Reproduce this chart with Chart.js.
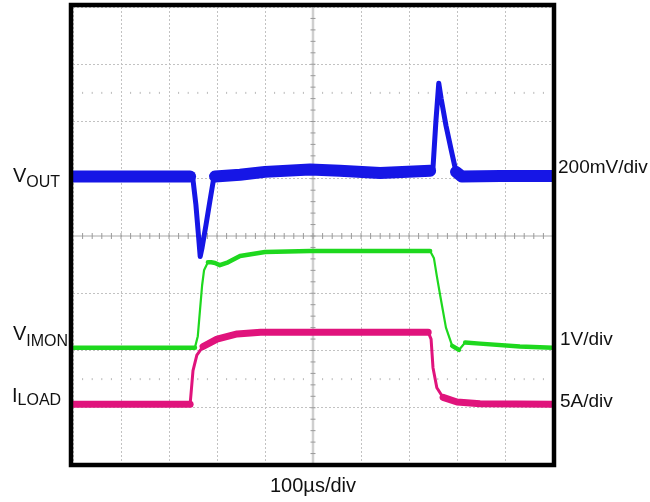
<!DOCTYPE html>
<html>
<head>
<meta charset="utf-8">
<script src="https://cdn.jsdelivr.net/npm/chart.js@4/dist/chart.umd.min.js"></script>
<style>
  body { margin: 0; background: #fff; }
  #wrap { width: 650px; height: 502px; }
</style>
</head>
<body>
<div id="wrap"><canvas id="scope" width="650" height="502"></canvas></div>
<script>
// time in divisions (100us/div), level in divisions from screen centre
const voutT = [0, 2.44, 2.5, 2.56, 2.62, 2.65, 2.69, 2.77, 2.85, 2.92, 2.96, 3.48, 4.0, 4.94, 5.56, 6.4, 7.44, 7.5, 7.56, 7.62, 7.67, 7.77, 7.88, 7.98, 8.1, 8.9, 10];
const voutV = [1.04, 1.04, 0.98, 0.55, -0.05, -0.36, -0.2, 0.19, 0.6, 0.95, 1.04, 1.07, 1.12, 1.16, 1.14, 1.1, 1.14, 1.19, 2.0, 2.67, 2.4, 1.93, 1.5, 1.12, 1.04, 1.05, 1.05];

const imonT = [0, 2.54, 2.6, 2.65, 2.69, 2.73, 2.81, 2.88, 2.96, 3.06, 3.23, 3.48, 4.0, 4.94, 7.44, 7.52, 7.58, 7.65, 7.77, 7.9, 8.04, 8.17, 8.48, 9.31, 10];
const imonV = [-1.95, -1.95, -1.75, -1.25, -0.86, -0.6, -0.46, -0.46, -0.47, -0.51, -0.46, -0.35, -0.28, -0.26, -0.26, -0.39, -0.7, -1.04, -1.6, -1.92, -1.99, -1.86, -1.88, -1.93, -1.95];

const iloadT = [0, 2.44, 2.5, 2.58, 2.71, 3.0, 3.42, 3.91, 4.94, 7.4, 7.46, 7.5, 7.58, 7.71, 8.0, 8.48, 10];
const iloadV = [-2.94, -2.94, -2.35, -2.08, -1.93, -1.8, -1.71, -1.68, -1.68, -1.68, -1.8, -2.3, -2.65, -2.82, -2.9, -2.93, -2.94];

const xTicks = [0, 1, 2, 3, 4, 5, 6, 7, 8, 9, 10];
const yTicks = [-4, -3, -2, -1, 0, 1, 2, 3, 4];

const traces = [
  { label: 'VOUT', t: voutT, v: voutV, color: '#1616e6', thick: 12, thin: 5 },
  { label: 'VIMON', t: imonT, v: imonV, color: '#1ed81e', thick: 4.5, thin: 2.2 },
  { label: 'ILOAD', t: iloadT, v: iloadV, color: '#e0137c', thick: 7, thin: 3 }
];

const isSteep = (ctx) => {
  const dx = Math.abs(ctx.p1.x - ctx.p0.x);
  const dy = Math.abs(ctx.p1.y - ctx.p0.y);
  return dy / Math.max(dx, 0.01) >= 0.8;
};

const datasets = [];
traces.forEach((tr) => {
  const pts = tr.t.map((t, i) => ({ x: t, y: tr.v[i] }));
  // noise band on the flat stretches
  datasets.push({
    label: tr.label + ' band',
    data: pts,
    borderColor: tr.color,
    borderWidth: tr.thick,
    borderCapStyle: 'round',
    borderJoinStyle: 'round',
    pointRadius: 0,
    tension: 0,
    clip: 0,
    segment: { borderColor: (ctx) => (isSteep(ctx) ? 'rgba(0,0,0,0)' : tr.color) }
  });
  // thin trace through the whole record
  datasets.push({
    label: tr.label,
    data: pts,
    borderColor: tr.color,
    borderWidth: tr.thin,
    borderCapStyle: 'round',
    borderJoinStyle: 'round',
    pointRadius: 0,
    tension: 0,
    clip: 0
  });
});

const scopeDecor = {
  id: 'scopeDecor',
  beforeDatasetsDraw(chart) {
    const { ctx, chartArea: a, scales: { x, y } } = chart;
    const cx = x.getPixelForValue(5), cy = y.getPixelForValue(0);
    ctx.save();
    // centre cross
    ctx.strokeStyle = '#cfcfcf';
    ctx.lineWidth = 2.5;
    ctx.beginPath(); ctx.moveTo(cx, a.top); ctx.lineTo(cx, a.bottom); ctx.stroke();
    ctx.strokeStyle = '#a8a8a8';
    ctx.lineWidth = 1;
    ctx.beginPath(); ctx.moveTo(a.left, cy); ctx.lineTo(a.right, cy); ctx.stroke();
    // minor ticks
    ctx.strokeStyle = '#9a9a9a';
    ctx.beginPath();
    for (let i = 1; i < 50; i++) {
      const px = x.getPixelForValue(i / 5);
      ctx.moveTo(px, cy - 3); ctx.lineTo(px, cy + 3);
    }
    for (let i = 1; i < 40; i++) {
      const py = y.getPixelForValue(-4 + i / 5);
      ctx.moveTo(cx - 2.5, py); ctx.lineTo(cx + 2.5, py);
    }
    ctx.stroke();
    // dotted marker rows
    ctx.fillStyle = '#b8b8b8';
    [2.5, -2.5].forEach((lv) => {
      const py = y.getPixelForValue(lv);
      for (let i = 1; i < 50; i++) {
        if (i % 5 === 0) continue;
        ctx.fillRect(x.getPixelForValue(i / 5) - 0.5, py - 1, 1, 2);
      }
    });
    ctx.restore();
  },
  afterDraw(chart) {
    const { ctx, chartArea: a } = chart;
    ctx.save();
    ctx.strokeStyle = '#000';
    ctx.lineWidth = 4.5;
    ctx.strokeRect(a.left - 2, a.top - 2, a.right - a.left + 3, a.bottom - a.top + 2);

    ctx.fillStyle = '#111';
    ctx.textBaseline = 'alphabetic';
    ctx.textAlign = 'left';
    const big = '20px "Liberation Sans", Arial, sans-serif';
    const small = '16px "Liberation Sans", Arial, sans-serif';
    const sub = (main, s, x0, yMain, ySub) => {
      ctx.font = big;
      ctx.fillText(main, x0, yMain);
      const w = ctx.measureText(main).width;
      ctx.font = small;
      ctx.fillText(s, x0 + w, ySub);
    };
    sub('V', 'OUT', 13, 182, 187);
    sub('V', 'IMON', 13, 340, 346);
    sub('I', 'LOAD', 12, 402, 405);

    ctx.font = '19px "Liberation Sans", Arial, sans-serif';
    ctx.fillText('200mV/div', a.right + 5, 173);
    ctx.fillText('1V/div', a.right + 7, 345);
    ctx.fillText('5A/div', a.right + 7, 407);
    ctx.font = big;
    ctx.textAlign = 'center';
    ctx.fillText('100\u00b5s/div', (a.left + a.right) / 2, 492);
    ctx.restore();
  }
};

new Chart('scope', {
  type: 'line',
  data: { datasets: datasets },
  options: {
    responsive: false,
    animation: false,
    layout: { padding: { left: 73, top: 7, right: 97, bottom: 37 } },
    plugins: { legend: { display: false }, tooltip: { enabled: false } },
    scales: {
      x: {
        type: 'linear', min: 0, max: 10,
        afterBuildTicks: (s) => { s.ticks = xTicks.map((v) => ({ value: v })); },
        ticks: { display: false },
        grid: { color: (c) => (c.tick.value === 5 ? 'rgba(0,0,0,0)' : '#c2c2c2'), drawTicks: false, lineWidth: 1 },
        border: { display: false, dash: [2, 2] }
      },
      y: {
        type: 'linear', min: -4, max: 4,
        afterBuildTicks: (s) => { s.ticks = yTicks.map((v) => ({ value: v })); },
        ticks: { display: false },
        grid: { color: (c) => (c.tick.value === 0 ? 'rgba(0,0,0,0)' : '#c2c2c2'), drawTicks: false, lineWidth: 1 },
        border: { display: false, dash: [2, 2] }
      }
    }
  },
  plugins: [scopeDecor]
});
</script>
</body>
</html>
